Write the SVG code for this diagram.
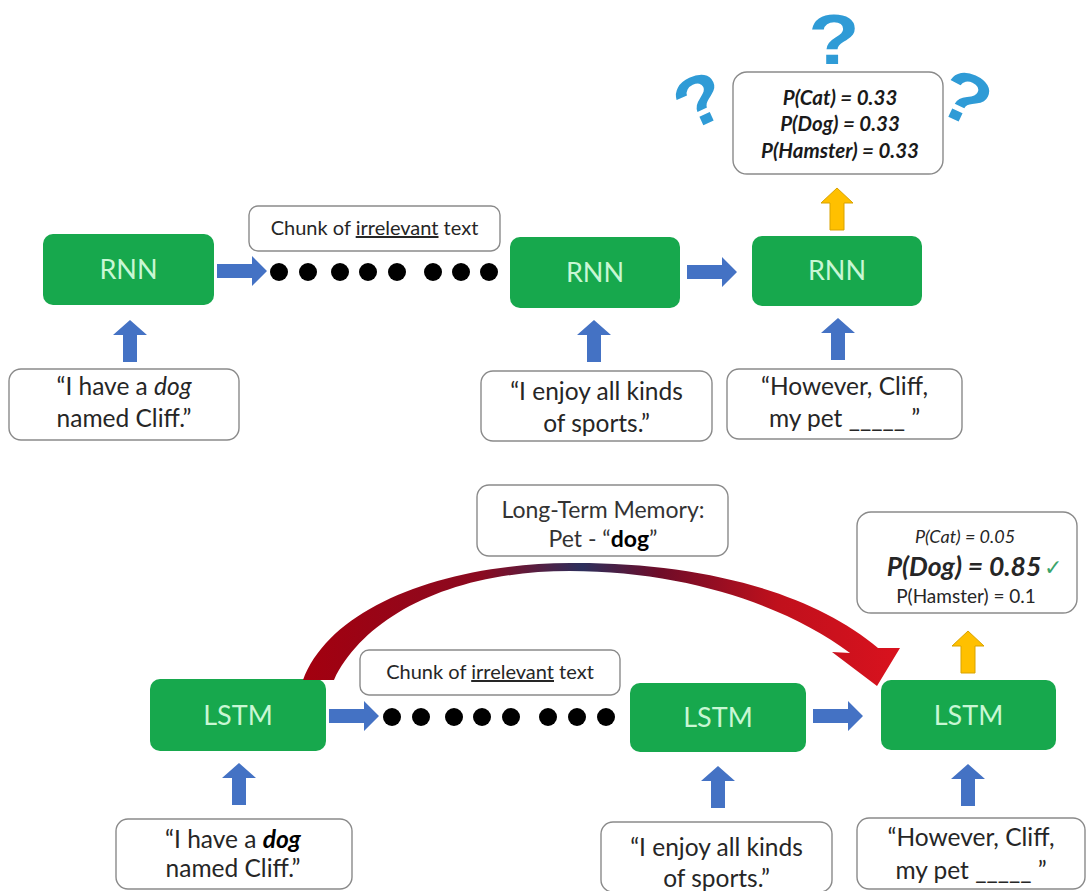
<svg xmlns="http://www.w3.org/2000/svg" width="1091" height="891" viewBox="0 0 1091 891">
<style>
.cell{fill:#17a84d;}
.cellt{fill:#c8f7d4;font-family:Lato,"Liberation Sans",sans-serif;font-size:27px;text-anchor:middle;}
.box{fill:#fff;stroke:#8a8a8a;stroke-width:1.4;}
.t{fill:#262626;font-family:Lato,"Liberation Sans",sans-serif;text-anchor:middle;}
.in{font-size:24.5px;}
.chunk{font-size:20px;}
.mem{font-size:23px;fill:#333;}
.pb{font-size:20.5px;font-weight:bold;font-style:italic;fill:#1a1a1a;}
.q{fill:#2f9bd6;font-family:"Liberation Sans",sans-serif;font-weight:bold;font-size:70px;text-anchor:middle;}
.blue{fill:#4472c4;}
.yel{fill:#ffc000;stroke:#d9a300;stroke-width:1;}
.dot{fill:#000;}
</style>
<defs>
<path id="rA" d="M0,0 L-15,-15 L-15,-7 L-50,-7 L-50,7 L-15,7 L-15,15 Z"/>
<path id="uA" d="M0,0 L17,15 L7,15 L7,42 L-7,42 L-7,15 L-17,15 Z"/>
<path id="yA" d="M0,0 L16,15 L7,15 L7,42 L-7,42 L-7,15 L-16,15 Z"/>
<linearGradient id="redg" gradientUnits="userSpaceOnUse" x1="304" y1="0" x2="896" y2="0">
<stop offset="0" stop-color="#a3000f"/>
<stop offset="0.3" stop-color="#8a0a20"/>
<stop offset="0.47" stop-color="#2c2f5c"/>
<stop offset="0.6" stop-color="#6e0c28"/>
<stop offset="0.8" stop-color="#c0101c"/>
<stop offset="1" stop-color="#d8121e"/>
</linearGradient>
</defs>
<rect width="1091" height="891" fill="#fff"/>

<!-- question marks -->
<g id="questions">
<text class="q" transform="translate(834 64) scale(1.2 1)">?</text>
<text class="q" transform="translate(710 122) rotate(-25) scale(1.15 1)">?</text>
<text class="q" transform="translate(955 120) rotate(25) scale(1.15 1)">?</text>
</g>

<!-- top row -->
<g id="rnn1"><rect class="cell" x="43" y="234" width="171" height="71" rx="10"/><text class="cellt" x="128.5" y="279">RNN</text></g>
<g id="rnn2"><rect class="cell" x="510" y="237" width="170" height="71" rx="10"/><text class="cellt" x="595" y="282">RNN</text></g>
<g id="rnn3"><rect class="cell" x="752" y="236" width="170" height="70" rx="10"/><text class="cellt" x="837" y="280">RNN</text></g>

<g id="chunk1"><rect class="box" x="249" y="206" width="251" height="45" rx="9"/><text class="t chunk" x="374.5" y="235">Chunk of <tspan text-decoration="underline">irrelevant</tspan> text</text></g>

<g id="probs1"><rect class="box" x="733" y="72" width="210" height="102" rx="14"/>
<text class="t pb" x="840" y="105">P(Cat) = 0.33</text>
<text class="t pb" x="840" y="131">P(Dog) = 0.33</text>
<text class="t pb" x="840" y="158">P(Hamster) = 0.33</text></g>

<g id="in1"><rect class="box" x="9" y="369" width="230" height="71" rx="12"/>
<text class="t in" x="124" y="395">“I have a <tspan font-style="italic">dog</tspan></text>
<text class="t in" x="124" y="427">named Cliff.”</text></g>
<g id="in2"><rect class="box" x="481" y="371" width="231" height="70" rx="12"/>
<text class="t in" x="596.5" y="400">“I enjoy all kinds</text>
<text class="t in" x="596.5" y="432">of sports.”</text></g>
<g id="in3"><rect class="box" x="727" y="369" width="235" height="70" rx="12"/>
<text class="t in" x="844.5" y="395">“However, Cliff,</text>
<text class="t in" x="844.5" y="427">my pet _____ ”</text></g>

<!-- bottom row -->
<g id="memory"><rect class="box" x="477" y="485" width="251" height="71" rx="12"/>
<text class="t mem" x="603" y="518">Long-Term Memory:</text>
<text class="t mem" x="603" y="547">Pet - “<tspan font-weight="bold" fill="#000">dog</tspan>”</text></g>

<g id="lstm1"><rect class="cell" x="150" y="679" width="176" height="72" rx="10"/><text class="cellt" x="238" y="725">LSTM</text></g>
<g id="lstm2"><rect class="cell" x="630" y="683" width="176" height="69" rx="10"/><text class="cellt" x="718" y="727">LSTM</text></g>
<g id="lstm3"><rect class="cell" x="881" y="680" width="175" height="70" rx="10"/><text class="cellt" x="968.5" y="725">LSTM</text></g>

<g id="chunk2"><rect class="box" x="360" y="650" width="260" height="45" rx="9"/><text class="t chunk" x="490" y="679">Chunk of <tspan text-decoration="underline">irrelevant</tspan> text</text></g>

<g id="probs2"><rect class="box" x="857" y="512" width="220" height="101" rx="14"/>
<text class="t" x="965" y="543" font-size="18" font-style="italic" fill="#444">P(Cat) = 0.05</text>
<text class="t" x="964" y="576" font-size="26.5" font-style="italic" font-weight="bold" fill="#111">P(Dog) = 0.85</text>
<text x="1044" y="575" font-family="DejaVu Sans,sans-serif" font-size="22" fill="#3aa46a">✓</text>
<text class="t" x="966" y="603" font-size="19" fill="#333">P(Hamster) = 0.1</text></g>

<g id="in4"><rect class="box" x="116" y="819" width="236" height="70" rx="12"/>
<text class="t in" x="233" y="848">“I have a <tspan font-style="italic" font-weight="bold" fill="#000">dog</tspan></text>
<text class="t in" x="233" y="877">named Cliff.”</text></g>
<g id="in5"><rect class="box" x="601" y="822" width="231" height="70" rx="12"/>
<text class="t in" x="716.5" y="856">“I enjoy all kinds</text>
<text class="t in" x="716.5" y="887">of sports.”</text></g>
<g id="in6"><rect class="box" x="857" y="818" width="228" height="71" rx="12"/>
<text class="t in" x="971" y="846">“However, Cliff,</text>
<text class="t in" x="971" y="879">my pet _____ ”</text></g>

<!-- dots -->
<g id="dots">
<circle class="dot" cx="279" cy="272" r="9"/><circle class="dot" cx="308" cy="272" r="9"/>
<circle class="dot" cx="340" cy="272" r="9"/><circle class="dot" cx="368" cy="272" r="9"/><circle class="dot" cx="397" cy="272" r="9"/>
<circle class="dot" cx="433" cy="272" r="9"/><circle class="dot" cx="461" cy="272" r="9"/><circle class="dot" cx="489" cy="272" r="9"/>
<circle class="dot" cx="392" cy="717" r="9"/><circle class="dot" cx="421" cy="717" r="9"/>
<circle class="dot" cx="454" cy="717" r="9"/><circle class="dot" cx="482" cy="717" r="9"/><circle class="dot" cx="511" cy="717" r="9"/>
<circle class="dot" cx="548" cy="717" r="9"/><circle class="dot" cx="577" cy="717" r="9"/><circle class="dot" cx="606" cy="717" r="9"/>
</g>

<!-- connectors -->
<g id="connectors">
<use href="#rA" class="blue" x="267" y="271"/>
<use href="#rA" class="blue" x="737" y="272"/>
<use href="#rA" class="blue" x="379" y="716"/>
<use href="#rA" class="blue" x="863" y="716"/>
<use href="#uA" class="blue" x="130" y="320"/>
<use href="#uA" class="blue" x="594" y="320"/>
<use href="#uA" class="blue" x="838" y="318"/>
<use href="#uA" class="blue" x="239" y="763"/>
<use href="#uA" class="blue" x="718" y="766"/>
<use href="#uA" class="blue" x="968" y="764"/>
<use href="#yA" class="yel" x="837" y="188"/>
<use href="#yA" class="yel" x="968" y="631"/>
<path d="M303 680 C330 608 440 564 570 563 C700 562 812 592 878 648 L900 648 L877 686 L832 652 L850 653 C790 608 690 571 570 571 C450 571 364 617 334 680 Z" fill="url(#redg)"/>
</g>
</svg>
